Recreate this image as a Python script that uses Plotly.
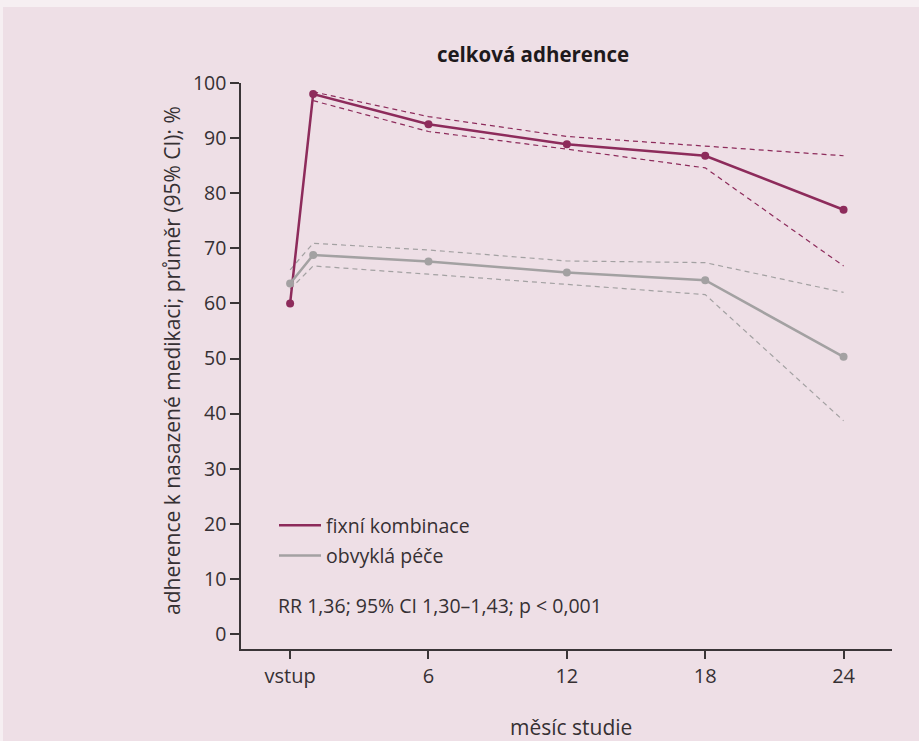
import plotly.graph_objects as go

# months of study (0 = vstup / baseline)
months = [0, 1, 6, 12, 18, 24]
tick_vals = [0, 6, 12, 18, 24]
tick_text = ["vstup", "6", "12", "18", "24"]

# fixní kombinace: mean adherence and 95% CI (CI from month 1)
fixed_mean = [60.0, 98.0, 92.5, 88.9, 86.8, 77.0]
fixed_ci_months = [1, 6, 12, 18, 24]
fixed_upper = [98.4, 93.9, 90.3, 88.5, 86.8]
fixed_lower = [96.8, 91.2, 88.0, 84.6, 66.8]

# obvyklá péče
usual_mean = [63.6, 68.8, 67.6, 65.6, 64.2, 50.3]
usual_ci_months = [0, 1, 6, 12, 18, 24]
usual_upper = [66.1, 70.9, 69.7, 67.7, 67.4, 62.0]
usual_lower = [62.6, 66.8, 65.3, 63.5, 61.6, 38.7]

FIXED_COLOR = "#8D2B5B"
USUAL_COLOR = "#A3A1A2"
BG = "#EEDFE6"
OUTER_BG = "#F6EFF2"
TEXT = "#363033"
FONT = "Open Sans"

fig = go.Figure()

# CI dashed lines
for xs, ys, col in [
    (fixed_ci_months, fixed_upper, FIXED_COLOR),
    (fixed_ci_months, fixed_lower, FIXED_COLOR),
    (usual_ci_months, usual_upper, USUAL_COLOR),
    (usual_ci_months, usual_lower, USUAL_COLOR),
]:
    fig.add_trace(go.Scatter(
        x=xs, y=ys, mode="lines",
        line=dict(color=col, width=1.2, dash="5px,4px"),
        showlegend=False, hoverinfo="skip",
    ))

# mean lines (legend entries) and markers
for name, ys, col, grp in [
    ("fixní kombinace", fixed_mean, FIXED_COLOR, "a"),
    ("obvyklá péče", usual_mean, USUAL_COLOR, "b"),
]:
    fig.add_trace(go.Scatter(
        x=months, y=ys, mode="lines", name=name,
        line=dict(color=col, width=2.5),
        legendgroup=grp,
    ))
    fig.add_trace(go.Scatter(
        x=months, y=ys, mode="markers",
        marker=dict(color=col, size=8),
        showlegend=False, legendgroup=grp,
    ))

# paper is 241..892 x 83..649 px
def px_x(px):
    return (px - 241) / 651

def px_y(py):
    return (649 - py) / 566

fig.add_shape(
    type="rect", xref="paper", yref="paper",
    x0=px_x(3), x1=px_x(930), y0=px_y(750), y1=px_y(7),
    fillcolor=BG, line=dict(width=0), layer="below",
)

fig.add_annotation(
    text="adherence k nasazené medikaci; průměr (95% CI); %",
    xref="paper", yref="paper", x=px_x(172), y=px_y(361),
    xanchor="center", yanchor="middle",
    textangle=-90, showarrow=False,
    font=dict(family=FONT, size=21, color=TEXT),
)
fig.add_annotation(
    text="měsíc studie",
    xref="paper", yref="paper", x=px_x(571), y=px_y(727),
    xanchor="center", yanchor="middle", showarrow=False,
    font=dict(family=FONT, size=21, color=TEXT),
)
fig.add_annotation(
    text="RR 1,36; 95% CI 1,30–1,43; p < 0,001",
    xref="paper", yref="paper", x=px_x(276), y=px_y(605),
    xanchor="left", yanchor="middle", showarrow=False,
    font=dict(family=FONT, size=19.5, color=TEXT),
)

fig.update_layout(
    width=919, height=741,
    margin=dict(l=241, r=27, t=83, b=92),
    paper_bgcolor=OUTER_BG,
    plot_bgcolor=BG,
    font=dict(family=FONT, size=19, color=TEXT),
    title=dict(
        text="<b>celková adherence</b>",
        x=533 / 919, xanchor="center", y=1 - 55 / 741, yanchor="middle",
        yref="container",
        font=dict(family=FONT, size=20.5, color="#1E1A1C"),
    ),
    legend=dict(
        x=px_x(274), y=px_y(506), xanchor="left", yanchor="top",
        bgcolor="rgba(0,0,0,0)", font=dict(family=FONT, size=19.5, color=TEXT),
        tracegroupgap=2, itemwidth=42,
    ),
    showlegend=True,
)

fig.update_xaxes(
    range=[-2.13, 26.1],
    tickvals=tick_vals, ticktext=tick_text,
    showgrid=False, zeroline=False,
    showline=True, linecolor="#3A3537", linewidth=1.5,
    ticks="outside", ticklen=8, tickcolor="#3A3537", tickwidth=1.5,
    tickfont=dict(family=FONT, size=20, color=TEXT),
)
fig.update_yaxes(
    range=[-2.72, 100],
    tickvals=list(range(0, 101, 10)),
    showgrid=False, zeroline=False,
    showline=True, linecolor="#3A3537", linewidth=1.5,
    ticks="outside", ticklen=9, tickcolor="#3A3537", tickwidth=1.5,
    tickfont=dict(family=FONT, size=19.5, color=TEXT),
)

# drop the default 8px page margin so the figure sits at the window origin
fig.write_html(
    "out.html",
    config={"displayModeBar": False},
    post_script="document.body.style.margin='0';",
)
